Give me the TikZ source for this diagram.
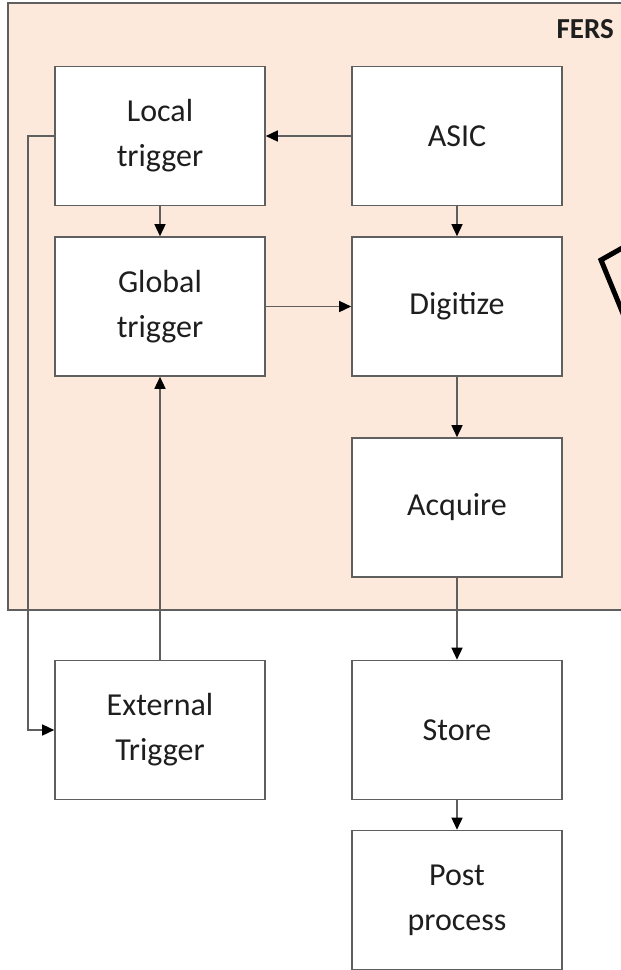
\documentclass[tikz,border=0pt]{standalone}
\usepackage{fontspec}
\setmainfont{Carlito}
\usetikzlibrary{arrows.meta}
\definecolor{fersfill}{HTML}{FCE9DC}
\definecolor{edge}{HTML}{5F5F5F}
\definecolor{ink}{HTML}{1E1E1E}
\tikzset{
  block/.style={draw=edge, line width=1.6pt, fill=white, text=ink,
    minimum width=210pt, minimum height=139pt, align=center,
    inner sep=0pt, font=\fontsize{32}{45}\selectfont},
  link/.style={draw=edge, line width=1.5pt,
    -{Triangle[length=12pt, width=11pt, fill=black, color=black]}},
}
\begin{document}
\begin{tikzpicture}[x=1pt, y=-1pt]
\useasboundingbox (0,0) rectangle (621,970);
\clip (0,0) rectangle (621,970);

% FERS board area
\draw[edge, fill=fersfill, line width=2pt] (8,3) rectangle (700,610);
\node[anchor=north east, text=ink, inner sep=0pt,
  font=\fontsize{29}{34}\selectfont\bfseries] (fers) at (614,19) {FERS};

% partial block arrow at the right edge
\draw[black, line width=5pt, line join=miter] (640,238) -- (601,260) -- (640,355);

% processing blocks
\node[block] (local)  at (160,136) {Local\\trigger};
\node[block] (global) at (160,306.5) {Global\\trigger};
\node[block] (asic)   at (457,136) {ASIC};
\node[block] (digit)  at (457,306.5) {Digitize};
\node[block] (acq)    at (457,507.5) {Acquire};
\node[block] (ext)    at (160,730) {External\\Trigger};
\node[block] (store)  at (457,730) {Store};
\node[block] (post)   at (457,900) {Post\\process};

% connectors
\draw[link] (asic.west) -- (local.east);
\draw[link] (local.south) -- (global.north);
\draw[link] (asic.south) -- (digit.north);
\draw[link] (global.east) -- (digit.west);
\draw[link] (digit.south) -- (acq.north);
\draw[link] (acq.south) -- (store.north);
\draw[link] (store.south) -- (post.north);
\draw[link] (ext.north) -- (global.south);
\coordinate (loopTop) at (28,136);
\coordinate (loopBot) at (28,730);
\draw[link] (local.west) -- (loopTop) -- (loopBot) -- (ext.west);
\end{tikzpicture}
\end{document}
